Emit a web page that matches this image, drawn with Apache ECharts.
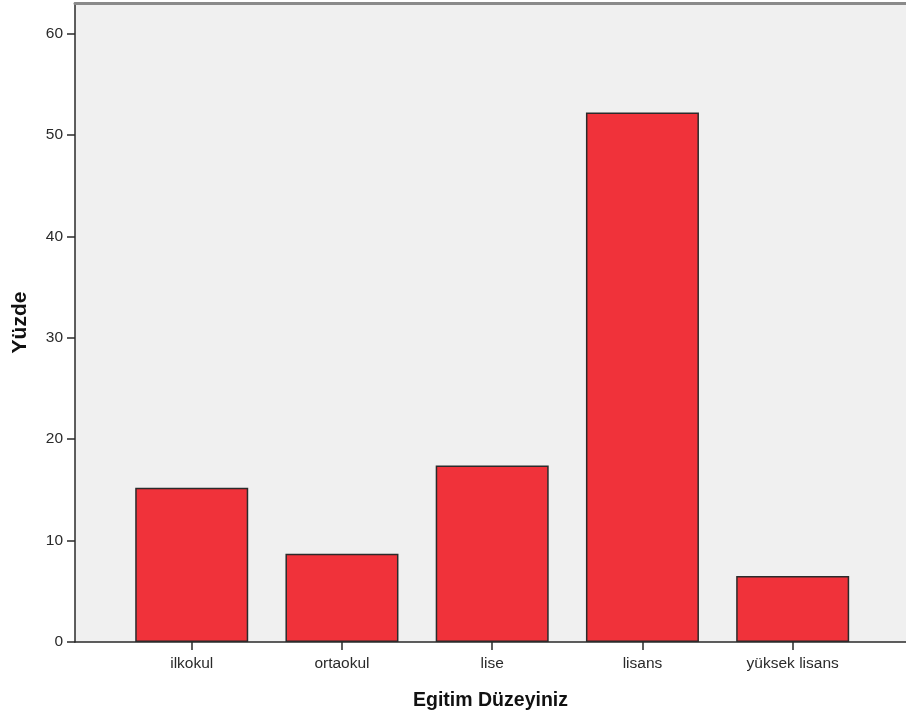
<!DOCTYPE html>
<html>
<head>
<meta charset="utf-8">
<script src="https://cdn.jsdelivr.net/npm/echarts@6/dist/echarts.min.js"></script>
<style>
html,body{margin:0;padding:0;background:#fff;}
#c{width:906px;height:720px;}
</style>
</head>
<body>
<div id="c"></div>
<script>
var categories = ['ilkokul', 'ortaokul', 'lise', 'lisans', 'yüksek lisans'];
var percents = [15.2, 8.7, 17.4, 52.2, 6.5];
var yTicks = [0, 10, 20, 30, 40, 50, 60];

var FONT = 'Arial, "Liberation Sans", sans-serif';
var chart = echarts.init(document.getElementById('c'));
chart.setOption({
  animation: false,
  backgroundColor: '#ffffff',
  grid: [
    {left: 75, right: -3, top: 3, bottom: 78, show: true, backgroundColor: '#f0f0f0', borderWidth: 0, containLabel: false},
    {left: 116.6, right: 38.2, top: 3, bottom: 78, containLabel: false}
  ],
  xAxis: [
    {
      gridIndex: 0, type: 'value', min: 0, max: 1, position: 'bottom',
      axisLine: {show: true, lineStyle: {color: '#2a2a2a', width: 1.5}},
      axisTick: {show: false}, axisLabel: {show: false}, splitLine: {show: false},
      name: 'Egitim Düzeyiniz', nameLocation: 'middle', nameGap: 49,
      nameTextStyle: {fontFamily: FONT, fontSize: 19.5, fontWeight: 'bold', color: '#111'}
    },
    {
      gridIndex: 0, type: 'value', min: 0, max: 1, position: 'top',
      axisLine: {show: true, lineStyle: {color: '#8a8a8a', width: 3}},
      axisTick: {show: false}, axisLabel: {show: false}, splitLine: {show: false}
    },
    {
      gridIndex: 1, type: 'category', data: categories, position: 'bottom',
      axisLine: {show: false},
      axisTick: {show: true, alignWithLabel: true, length: 8, lineStyle: {color: '#2a2a2a', width: 1.5}},
      axisLabel: {fontFamily: FONT, fontSize: 15.5, color: '#2a2a2a', margin: 14},
      splitLine: {show: false}
    }
  ],
  yAxis: [
    {
      gridIndex: 0, type: 'value', min: 0, max: 63,
      axisLine: {show: true, lineStyle: {color: '#2a2a2a', width: 1.5}},
      axisTick: {show: true, length: 8, customValues: yTicks, lineStyle: {color: '#2a2a2a', width: 1.5}},
      axisLabel: {fontFamily: FONT, fontSize: 15.5, color: '#2a2a2a', margin: 12, customValues: yTicks},
      splitLine: {show: false},
      name: 'Yüzde', nameLocation: 'middle', nameGap: 44, nameRotate: 90,
      nameTextStyle: {fontFamily: FONT, fontSize: 21, fontWeight: 'bold', color: '#111'}
    },
    {
      gridIndex: 1, type: 'value', min: 0, max: 63, show: false
    }
  ],
  series: [{
    type: 'bar', xAxisIndex: 2, yAxisIndex: 1,
    data: percents, barWidth: 113,
    itemStyle: {color: '#f0323a', borderColor: '#2b2b2b', borderWidth: 1.5},
    z: 3
  }]
});
</script>
</body>
</html>
